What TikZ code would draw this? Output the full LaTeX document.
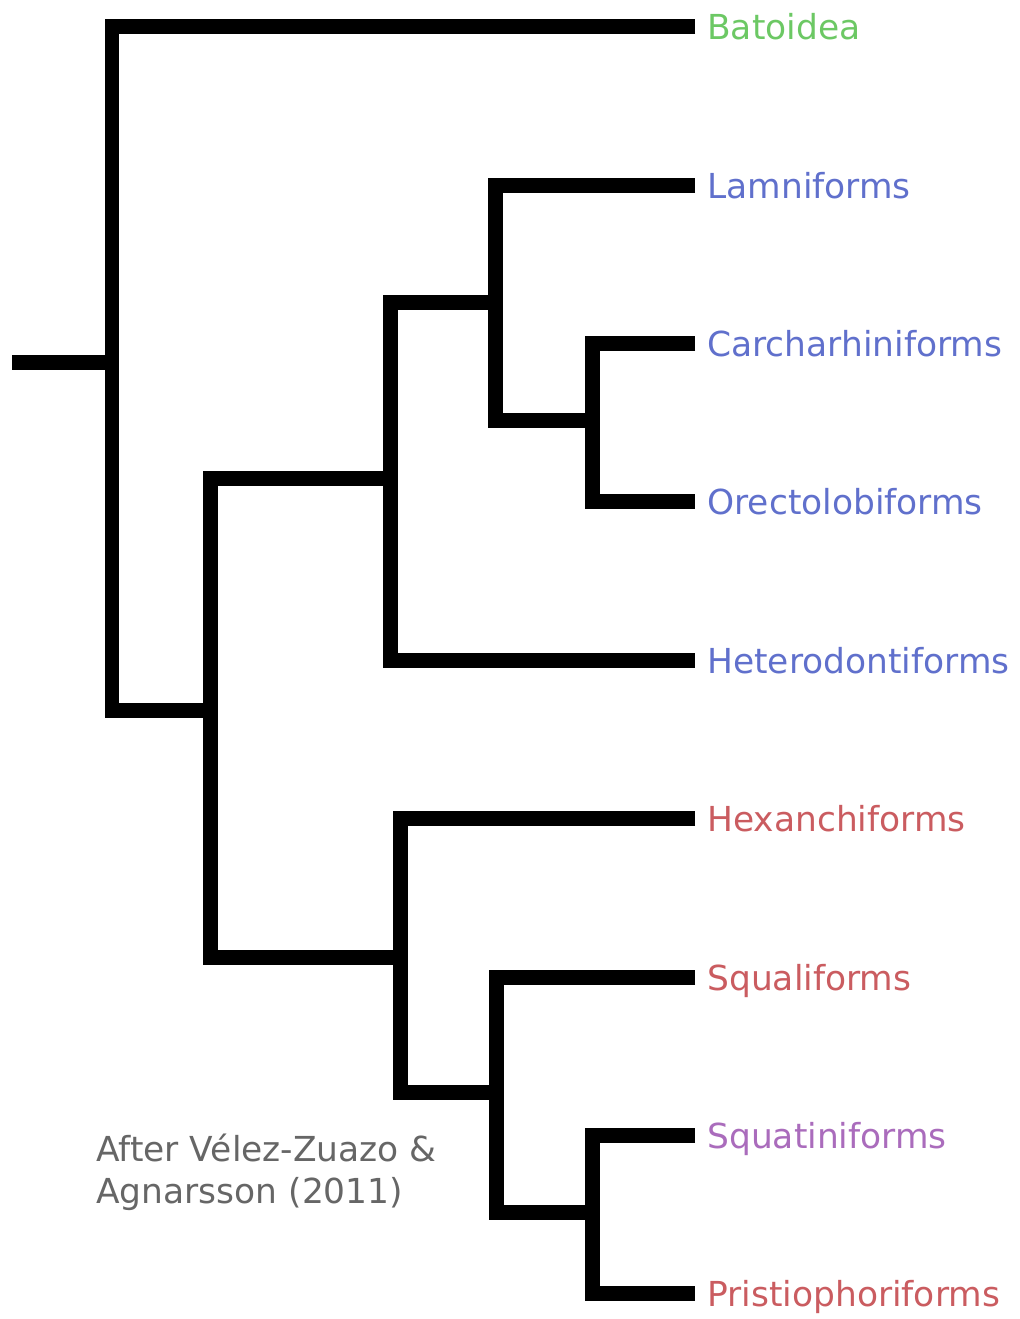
\documentclass[tikz,border=0pt]{standalone}
\usepackage{fontspec}
\setmainfont{DejaVu Sans}
\usepackage{tikz}

\definecolor{rayGreen}{RGB}{108,200,100}
\definecolor{galeaBlue}{RGB}{96,112,204}
\definecolor{squalRed}{RGB}{202,92,96}
\definecolor{squatPurple}{RGB}{170,108,188}
\definecolor{citeGray}{RGB}{102,102,102}

\begin{document}
\begin{tikzpicture}[x=0.02cm,y=-0.02cm]
\tikzset{branch/.style={draw=black,line width=0.3cm,line join=miter,line cap=butt},
  taxon/.style={anchor=west,inner xsep=0.24cm,inner ysep=0pt,text height=0.52cm,text depth=0pt,font=\fontsize{19.6}{23}\selectfont},
  cite/.style={anchor=base west,inner sep=0pt,text=citeGray,font=\fontsize{19.6}{23}\selectfont}}
\useasboundingbox (0,0) rectangle (1019,1319);
%Node Coordinates
\coordinate (r0) at (12,362);
\coordinate (n1) at (112,362);
\coordinate (n2) at (210,710);
\coordinate (n3) at (390,478);
\coordinate (n4) at (495,302);
\coordinate (n5) at (592,420);
\coordinate (n7) at (400,957);
\coordinate (n8) at (496,1092);
\coordinate (n9) at (592,1212);
%Taxon Labels
\node at (695,26) [taxon,text=rayGreen] (batoidea) {Batoidea};
\node at (695,185) [taxon,text=galeaBlue] (lamni) {Lamniforms};
\node at (695,343) [taxon,text=galeaBlue] (carcha) {Carcharhiniforms};
\node at (695,501) [taxon,text=galeaBlue] (orecto) {Orectolobiforms};
\node at (695,660) [taxon,text=galeaBlue] (hetero) {Heterodontiforms};
\node at (695,818) [taxon,text=squalRed] (hexan) {Hexanchiforms};
\node at (695,977) [taxon,text=squalRed] (squali) {Squaliforms};
\node at (695,1135) [taxon,text=squatPurple] (squati) {Squatiniforms};
\node at (695,1293) [taxon,text=squalRed] (pristi) {Pristiophoriforms};
%Connections
\draw [branch] (r0) -- (n1);
\draw [branch] (batoidea.west) -| (n1) |- (n2);
\draw [branch] (n3) -| (n2) |- (n7);
\draw [branch] (n4) -| (n3) |- (hetero.west);
\draw [branch] (lamni.west) -| (n4) |- (n5);
\draw [branch] (carcha.west) -| (n5) |- (orecto.west);
\draw [branch] (hexan.west) -| (n7) |- (n8);
\draw [branch] (squali.west) -| (n8) |- (n9);
\draw [branch] (squati.west) -| (n9) |- (pristi.west);
% Source
\node at (96,1161) [cite] (cite1) {After Vélez-Zuazo \&};
\node at (96,1203) [cite] (cite2) {Agnarsson (2011)};
\end{tikzpicture}
\end{document}
